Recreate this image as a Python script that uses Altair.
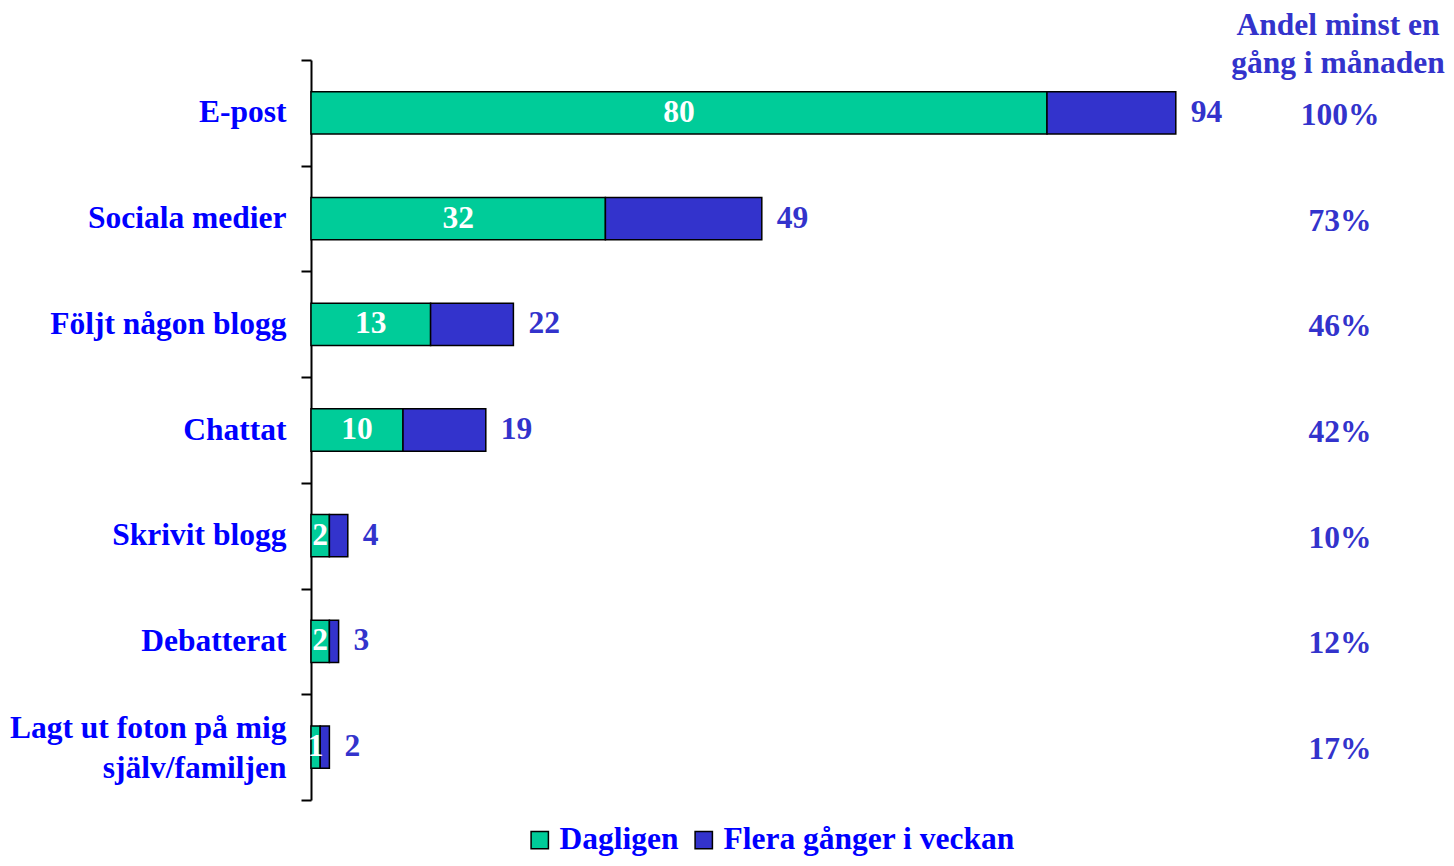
import altair as alt
import pandas as pd

categories = ["E-post", "Sociala medier", "Följt någon blogg", "Chattat",
              "Skrivit blogg", "Debatterat", "Lagt ut foton på mig själv/familjen"]
dagligen = [80, 32, 13, 10, 2, 2, 1]
flera = [14, 17, 9, 9, 2, 1, 1]
andel = ["100%", "73%", "46%", "42%", "10%", "12%", "17%"]
series = ["Dagligen", "Flera gånger i veckan"]
header = "Andel minst en\ngång i månaden"
line_breaks = {"Lagt ut foton på mig själv/familjen": ["Lagt ut foton på mig", "själv/familjen"]}

GREEN = "#00CC99"
BLUE = "#3333CC"
LABEL_BLUE = "#0000FF"
FONT = "Liberation Serif"
FS = 31.5

wide = pd.DataFrame({"kategori": categories, "dagligen": dagligen, "flera": flera, "andel": andel})
long_rows = []
for c, d, f in zip(categories, dagligen, flera):
    long_rows.append({"kategori": c, "serie": series[0], "värde": d, "ordning": 0})
    long_rows.append({"kategori": c, "serie": series[1], "värde": f, "ordning": 1})
long = pd.DataFrame(long_rows)

expr = "datum.label"
off_expr = "0"
for k, v in line_breaks.items():
    arr = "[" + ", ".join("'" + s + "'" for s in v) + "]"
    expr = f"datum.label == '{k}' ? {arr} : " + expr
    off_expr = f"datum.value == '{k}' ? -19 : " + off_expr

y_enc = alt.Y("kategori:N", sort=categories, title=None,
              scale=alt.Scale(paddingInner=0, paddingOuter=0),
              axis=alt.Axis(tickBand="extent", domainColor="black", domainWidth=2,
                            tickColor="black", tickWidth=2, tickSize=10,
                            labelPadding=15, labelFont=FONT, labelFontSize=FS,
                            labelFontWeight="bold", labelColor=LABEL_BLUE,
                            labelLimit=400, labelLineHeight=40, labelExpr=expr,
                            labelOffset={"expr": off_expr}))
x_scale = alt.Scale(domain=[0, 100], nice=False)

bars = alt.Chart(long).mark_bar(stroke="black", strokeWidth=1.5, height={"band": 0.4}).encode(
    y=y_enc,
    x=alt.X("värde:Q", stack="zero", scale=x_scale, axis=None),
    color=alt.Color("serie:N", scale=alt.Scale(domain=series, range=[GREEN, BLUE]),
                    legend=alt.Legend(title=None, orient="none", legendX=213, legendY=764,
                                      direction="horizontal", symbolType="square",
                                      symbolSize=300, symbolStrokeColor="black",
                                      symbolStrokeWidth=1.5, symbolOpacity=1,
                                      labelFont=FONT, labelFontSize=FS, labelFontWeight="bold",
                                      labelColor=LABEL_BLUE, labelOffset=4,
                                      columnPadding=9, labelLimit=500)),
    order=alt.Order("ordning:Q"),
)

inner = alt.Chart(wide).transform_calculate(mid="datum.dagligen / 2").mark_text(
    font=FONT, fontSize=FS, fontWeight="bold", color="white", baseline="middle", align="center"
).encode(y=alt.Y("kategori:N", sort=categories), x=alt.X("mid:Q", scale=x_scale), text="dagligen:Q")

totals = alt.Chart(wide).transform_calculate(total="datum.dagligen + datum.flera").mark_text(
    font=FONT, fontSize=FS, fontWeight="bold", color=BLUE, baseline="middle", align="left", dx=15
).encode(y=alt.Y("kategori:N", sort=categories), x=alt.X("total:Q", scale=x_scale), text="total:Q")

pct = alt.Chart(wide).mark_text(
    font=FONT, fontSize=FS, fontWeight="bold", color=BLUE, baseline="middle", align="center", dy=3
).encode(y=alt.Y("kategori:N", sort=categories), x=alt.value(1029), text="andel:N")

head = alt.Chart(pd.DataFrame({"t": [header]})).mark_text(
    font=FONT, fontSize=FS, fontWeight="bold", color=BLUE, baseline="middle", align="center",
    lineBreak="\n", lineHeight=38
).encode(x=alt.value(1027), y=alt.value(-34), text="t:N")

chart = alt.layer(bars, inner, totals, pct, head).properties(
    width=920, height=740,
    autosize=alt.AutoSizeParams(type="none"),
    padding={"left": 303, "top": 52, "right": 215, "bottom": 58},
).configure(background="white").configure_view(stroke=None)

chart.save("out.html", embed_options={"renderer": "svg", "actions": False})
